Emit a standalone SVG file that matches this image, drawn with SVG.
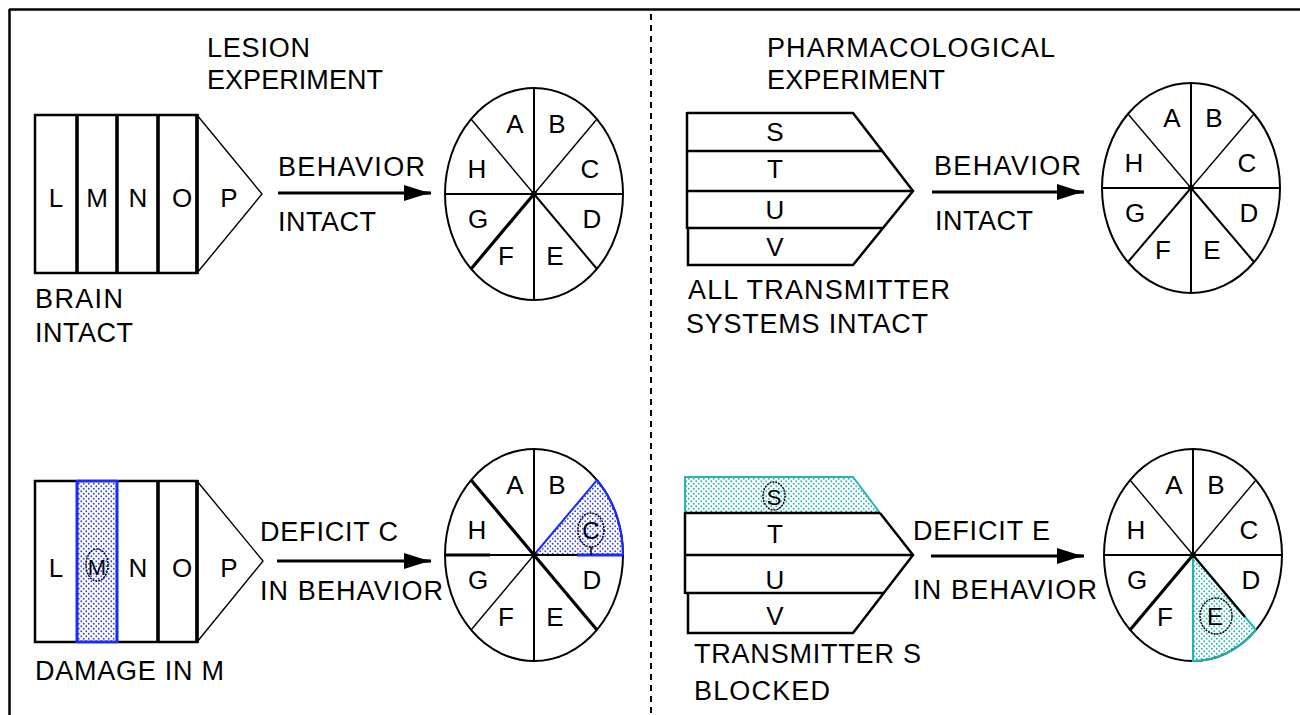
<svg xmlns="http://www.w3.org/2000/svg" width="1300" height="715" viewBox="0 0 1300 715">
<style>
text{font-family:"Liberation Sans",Arial,Helvetica,sans-serif;fill:#000}
.t{font-size:27px}
.lt{font-size:26px;text-anchor:middle}
.ell{fill:none;stroke:#000;stroke-width:2}
.sp{stroke:#000;stroke-width:2;fill:none}
.thin{stroke:#000;stroke-width:1.4;fill:none}
.thk{stroke:#000;stroke-width:3.2;fill:none}
.blk{fill:none;stroke:#000;stroke-width:2.5}
.div{stroke:#000;stroke-width:3.6}
.conn{stroke:#000;stroke-width:3;fill:none;marker-end:url(#ah)}
.circ{fill:none;stroke:#000;stroke-width:1.4;stroke-dasharray:2 1}
</style>
<defs>
<marker id="ah" markerUnits="userSpaceOnUse" markerWidth="30" markerHeight="18" refX="27" refY="8" orient="auto">
<path d="M0,0 L19,6 L27,7 L27,9 L19,10 L0,16 Z" fill="#000"/>
</marker>
<pattern id="dotB" width="5" height="5" patternUnits="userSpaceOnUse">
<rect width="5" height="5" fill="#fff"/>
<circle cx="1.25" cy="1.25" r="0.9" fill="#2b3cff"/>
<circle cx="3.75" cy="3.75" r="0.9" fill="#2b3cff"/>
</pattern>
<pattern id="dotC" width="5" height="5" patternUnits="userSpaceOnUse">
<rect width="5" height="5" fill="#fff"/>
<circle cx="1.25" cy="1.25" r="0.9" fill="#22b4b4"/>
<circle cx="3.75" cy="3.75" r="0.9" fill="#22b4b4"/>
</pattern>
</defs>
<rect width="1300" height="715" fill="#fff"/>

<g id="frame">
<line x1="9" y1="9.5" x2="1300" y2="9.5" stroke="#000" stroke-width="2.5"/>
<line x1="9.5" y1="9" x2="9.5" y2="715" stroke="#000" stroke-width="2.5"/>
<line x1="651" y1="14" x2="651" y2="715" stroke="#000" stroke-width="2" stroke-dasharray="6 5"/>
</g>

<g id="titles">
<text class="t" x="207" y="57" textLength="103">LESION</text>
<text class="t" x="207" y="89" textLength="176">EXPERIMENT</text>
<text class="t" x="767" y="57" textLength="288">PHARMACOLOGICAL</text>
<text class="t" x="767" y="89" textLength="178">EXPERIMENT</text>
</g>

<g id="brain-intact">
<rect x="35" y="115" width="162" height="158" class="blk"/>
<line x1="77" y1="115" x2="77" y2="273" class="div"/>
<line x1="117" y1="115" x2="117" y2="273" class="div"/>
<line x1="158" y1="115" x2="158" y2="273" class="div"/>
<line x1="197" y1="114" x2="197" y2="274" class="div" stroke-width="4"/>
<polyline points="197,115 262,194 197,273" class="thin" stroke-width="1.6"/>
<text class="lt" x="56" y="207">L</text>
<text class="lt" x="97" y="207">M</text>
<text class="lt" x="138" y="207">N</text>
<text class="lt" x="182" y="207">O</text>
<text class="lt" x="229" y="207">P</text>
<text class="t" x="35" y="308" textLength="88">BRAIN</text>
<text class="t" x="35" y="342" textLength="98">INTACT</text>
</g>

<g id="transmitters-intact">
<path d="M687,113 H853 L913,191 L853,265 H688 V228" class="blk" stroke-width="2"/>
<line x1="687" y1="112" x2="687" y2="229" stroke="#000" stroke-width="2.5"/>
<line x1="687" y1="151" x2="882" y2="151" stroke="#000" stroke-width="2.5"/>
<line x1="687" y1="191" x2="913" y2="191" stroke="#000" stroke-width="2.5"/>
<line x1="687" y1="228" x2="882" y2="228" stroke="#000" stroke-width="2.5"/>
<text class="lt" x="775" y="141">S</text>
<text class="lt" x="775" y="178">T</text>
<text class="lt" x="775" y="219">U</text>
<text class="lt" x="775" y="256">V</text>
<text class="t" x="688" y="299" textLength="262">ALL TRANSMITTER</text>
<text class="t" x="686" y="333" textLength="242">SYSTEMS INTACT</text>
</g>

<g id="brain-damaged">
<rect x="77" y="481" width="40" height="161" fill="url(#dotB)"/>
<rect x="35" y="481" width="162" height="161" class="blk"/>
<line x1="77" y1="481" x2="117" y2="481" stroke="#1a2bff" stroke-width="2.5"/>
<line x1="77" y1="642" x2="117" y2="642" stroke="#1a2bff" stroke-width="2.5"/>
<line x1="77" y1="480" x2="77" y2="643" stroke="#1a2bff" stroke-width="3"/>
<line x1="117" y1="480" x2="117" y2="643" stroke="#1a2bff" stroke-width="3"/>
<line x1="158" y1="481" x2="158" y2="642" class="div"/>
<line x1="197" y1="480" x2="197" y2="643" class="div" stroke-width="4"/>
<polyline points="197,481 263,561 197,642" class="thin" stroke-width="1.6"/>
<text class="lt" x="56" y="577">L</text>
<text class="lt" x="97" y="575" style="font-size:22px">M</text>
<ellipse cx="97" cy="565" rx="11" ry="16" class="circ"/>
<text class="lt" x="138" y="577">N</text>
<text class="lt" x="182" y="577">O</text>
<text class="lt" x="229" y="577">P</text>
<text class="t" x="35" y="680" textLength="189">DAMAGE IN M</text>
</g>

<g id="transmitters-blocked">
<polygon points="685,477 853,477 880,513 685,513" fill="url(#dotC)"/>
<polyline points="685,513 685,477 853,477 880,513" fill="none" stroke="#2ab4b4" stroke-width="2"/>
<line x1="685" y1="513" x2="880" y2="513" stroke="#000" stroke-width="2.5"/>
<path d="M880,513 L913,555 L853,633 H688 V593" class="blk" stroke-width="2"/>
<line x1="685" y1="512" x2="685" y2="594" stroke="#000" stroke-width="2.5"/>
<line x1="685" y1="555" x2="913" y2="555" stroke="#000" stroke-width="2.5"/>
<line x1="685" y1="593" x2="884" y2="593" stroke="#000" stroke-width="2.5"/>
<text class="lt" x="774" y="505" style="font-size:22px">S</text>
<ellipse cx="774" cy="496" rx="11" ry="14" class="circ"/>
<text class="lt" x="775" y="543">T</text>
<text class="lt" x="775" y="589">U</text>
<text class="lt" x="775" y="625">V</text>
<text class="t" x="694" y="663" textLength="227">TRANSMITTER S</text>
<text class="t" x="694" y="700" textLength="136">BLOCKED</text>
</g>

<g id="behavior-intact-1" transform="translate(534,194)">
<ellipse rx="89" ry="106" class="ell"/>
<line x1="0" y1="-106" x2="0" y2="106" class="sp"/>
<line x1="-89" y1="0" x2="89" y2="0" class="sp" stroke-width="2.5"/>
<line x1="0" y1="0" x2="-63" y2="-75" class="thin"/>
<line x1="0" y1="0" x2="63" y2="-75" class="thin"/>
<line x1="0" y1="0" x2="-63" y2="75" class="thk"/>
<line x1="0" y1="0" x2="63" y2="75" class="sp" stroke-width="2.4"/>
<circle r="3" fill="#000"/>
<text class="lt" x="-19" y="-61">A</text><text class="lt" x="23" y="-61">B</text>
<text class="lt" x="-57" y="-16">H</text><text class="lt" x="56" y="-16">C</text>
<text class="lt" x="-56" y="34">G</text><text class="lt" x="58" y="34">D</text>
<text class="lt" x="-28" y="71">F</text><text class="lt" x="21" y="71">E</text>
</g>

<g id="behavior-intact-2" transform="translate(1191,188)">
<ellipse rx="89" ry="105" class="ell"/>
<line x1="0" y1="-105" x2="0" y2="105" class="sp"/>
<line x1="-89" y1="0" x2="89" y2="0" class="sp" stroke-width="2.5"/>
<line x1="0" y1="0" x2="-63" y2="-74" class="thin"/>
<line x1="0" y1="0" x2="63" y2="-74" class="thin"/>
<line x1="0" y1="0" x2="-63" y2="74" class="sp" stroke-width="2.6"/>
<line x1="0" y1="0" x2="63" y2="74" class="sp" stroke-width="2.6"/>
<circle r="3" fill="#000"/>
<text class="lt" x="-19" y="-61">A</text><text class="lt" x="23" y="-61">B</text>
<text class="lt" x="-57" y="-16">H</text><text class="lt" x="56" y="-16">C</text>
<text class="lt" x="-56" y="34">G</text><text class="lt" x="58" y="34">D</text>
<text class="lt" x="-28" y="71">F</text><text class="lt" x="21" y="71">E</text>
</g>

<g id="behavior-deficit-c" transform="translate(534,555)">
<path d="M0,0 L63,-75 A89,106 0 0 1 89,0 Z" fill="url(#dotB)"/>
<ellipse rx="89" ry="106" class="ell"/>
<line x1="0" y1="-106" x2="0" y2="106" class="sp"/>
<line x1="-89" y1="0" x2="89" y2="0" class="sp"/>
<line x1="-89" y1="0" x2="-44" y2="0" class="thk" stroke-width="3.6"/>
<line x1="0" y1="0" x2="-63" y2="-75" class="thk"/>
<line x1="0" y1="0" x2="-63" y2="75" class="thin"/>
<line x1="0" y1="0" x2="63" y2="75" class="thk"/>
<path d="M0,0 L63,-75 A89,106 0 0 1 89,0" fill="none" stroke="#1a2bff" stroke-width="2"/>
<line x1="43" y1="0" x2="89" y2="0" stroke="#1a2bff" stroke-width="2.8"/>
<circle r="3" fill="#000"/>
<text class="lt" x="-19" y="-61">A</text><text class="lt" x="23" y="-61">B</text>
<text class="lt" x="-57" y="-16">H</text>
<text class="lt" x="57" y="-16" style="font-size:24px">C</text>
<ellipse cx="57" cy="-25" rx="13" ry="17" class="circ"/>
<line x1="57" y1="-8" x2="57" y2="0" stroke="#000" stroke-width="1.5"/>
<text class="lt" x="-56" y="34">G</text><text class="lt" x="58" y="34">D</text>
<text class="lt" x="-28" y="71">F</text><text class="lt" x="21" y="71">E</text>
</g>

<g id="behavior-deficit-e" transform="translate(1193,555)">
<path d="M0,0 L0,106 A89,106 0 0 0 63,75 Z" fill="url(#dotC)"/>
<ellipse rx="89" ry="106" class="ell"/>
<line x1="0" y1="-106" x2="0" y2="0" class="sp"/>
<line x1="-89" y1="0" x2="89" y2="0" class="sp"/>
<line x1="0" y1="0" x2="-63" y2="-75" class="thin"/>
<line x1="0" y1="0" x2="63" y2="-75" class="thin"/>
<line x1="0" y1="0" x2="-63" y2="75" class="thk"/>
<path d="M63,75 L0,0 L0,106 A89,106 0 0 0 63,75" fill="none" stroke="#22b4b4" stroke-width="2"/>
<line x1="0" y1="0" x2="52" y2="62" stroke="#000" stroke-width="2.2"/>
<circle r="3" fill="#000"/>
<text class="lt" x="-19" y="-61">A</text><text class="lt" x="23" y="-61">B</text>
<text class="lt" x="-57" y="-16">H</text><text class="lt" x="56" y="-16">C</text>
<text class="lt" x="-56" y="34">G</text><text class="lt" x="58" y="34">D</text>
<text class="lt" x="-28" y="71">F</text>
<text class="lt" x="22" y="70" style="font-size:24px">E</text>
<ellipse cx="23" cy="61" rx="16" ry="18" class="circ"/>
</g>

<g id="connectors">
<line x1="278" y1="193" x2="431" y2="193" class="conn"/>
<line x1="932" y1="192" x2="1084" y2="192" class="conn"/>
<line x1="277" y1="561" x2="431" y2="561" class="conn"/>
<line x1="931" y1="556" x2="1084" y2="556" class="conn"/>
<text class="t" x="278" y="176" textLength="147">BEHAVIOR</text>
<text class="t" x="278" y="231" textLength="98">INTACT</text>
<text class="t" x="934" y="175" textLength="147">BEHAVIOR</text>
<text class="t" x="935" y="230" textLength="98">INTACT</text>
<text class="t" x="260" y="541" textLength="138">DEFICIT C</text>
<text class="t" x="260" y="600" textLength="183">IN BEHAVIOR</text>
<text class="t" x="913" y="540" textLength="137">DEFICIT E</text>
<text class="t" x="913" y="599" textLength="184">IN BEHAVIOR</text>
</g>
</svg>
